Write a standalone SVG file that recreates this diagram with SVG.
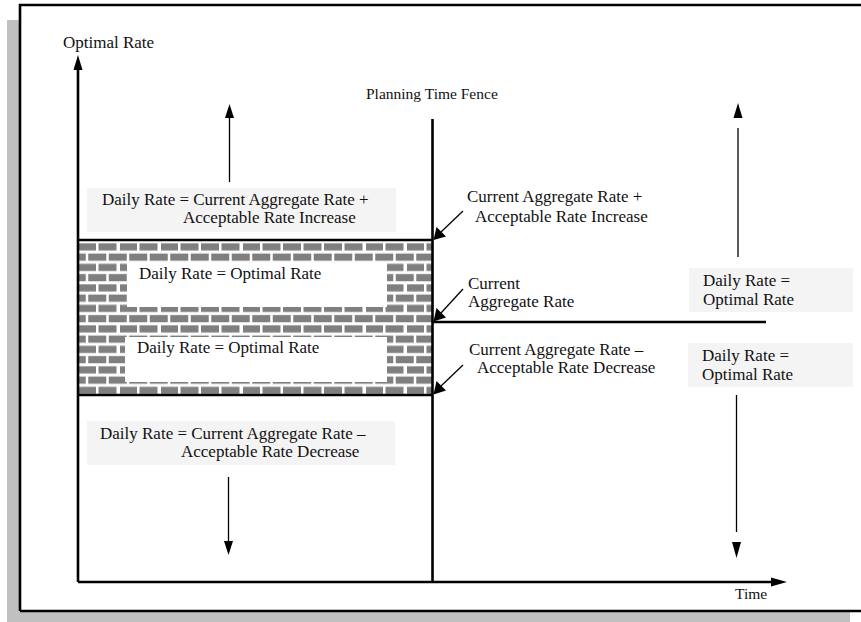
<svg xmlns="http://www.w3.org/2000/svg" width="861" height="622" viewBox="0 0 861 622">
<style>
text{font-family:"Liberation Serif","DejaVu Serif",serif;font-size:17px;fill:#111}
.sm{font-size:15.5px}
.ax{stroke:#000;stroke-width:2.6;fill:none}
.thin{stroke:#000;stroke-width:1.3;fill:none}
.box{fill:#f4f4f4}
.head{fill:#000}
</style>
<defs>
<pattern id="brick" patternUnits="userSpaceOnUse" x="78" y="241" width="41" height="20.5">
<rect width="41" height="20.5" fill="#fff"/>
<g fill="#7f7f7f">
<rect x="0" y="2.3" width="18" height="7.2"/>
<rect x="20.5" y="2.3" width="18" height="7.2"/>
<rect x="0" y="12.55" width="7.75" height="7.2"/>
<rect x="10.25" y="12.55" width="18" height="7.2"/>
<rect x="30.75" y="12.55" width="10.25" height="7.2"/>
</g>
</pattern>
</defs>
<rect width="861" height="622" fill="#fff"/>
<g id="frame">
<rect x="7" y="20" width="13" height="602" fill="#c0c0c0"/>
<rect x="7" y="611" width="843" height="11" fill="#c0c0c0"/>
<path d="M20,611 V5 H861 M20,611 H861" stroke="#000" stroke-width="2.6" fill="none"/>
</g>
<g id="band">
<rect x="78" y="240" width="354" height="82" fill="url(#brick)"/>
<rect x="78" y="322" width="354" height="73" fill="url(#brick)"/>
<rect x="127" y="263" width="260" height="44" fill="#fff"/>
<rect x="125" y="337" width="262" height="45" fill="#fff"/>
<path d="M78,240 H432 M78,395 H432" class="ax"/>
</g>
<g id="upper-optimal"><text x="139" y="279">Daily Rate = Optimal Rate</text></g>
<g id="lower-optimal"><text x="137" y="353">Daily Rate = Optimal Rate</text></g>
<g id="axis-y-label"><text x="63" y="48">Optimal Rate</text></g>
<g id="axis-x-label"><text class="sm" x="735" y="599">Time</text></g>
<g id="fence-label"><text class="sm" x="366" y="99">Planning Time Fence</text></g>
<g id="increase-box">
<rect class="box" x="87" y="188" width="309" height="44"/>
<text x="102" y="205">Daily Rate = Current Aggregate Rate +</text>
<text x="183" y="223">Acceptable Rate Increase</text>
</g>
<g id="decrease-box">
<rect class="box" x="87" y="421" width="308" height="44"/>
<text x="100" y="439">Daily Rate = Current Aggregate Rate –</text>
<text x="181" y="457">Acceptable Rate Decrease</text>
</g>
<g id="right-upper-box">
<rect class="box" x="689" y="268" width="164" height="44"/>
<text x="703" y="286">Daily Rate =</text>
<text x="703" y="305">Optimal Rate</text>
</g>
<g id="right-lower-box">
<rect class="box" x="688" y="343" width="165" height="44"/>
<text x="702" y="361">Daily Rate =</text>
<text x="702" y="380">Optimal Rate</text>
</g>
<g id="label-increase">
<text x="467" y="202">Current Aggregate Rate +</text>
<text x="475" y="222">Acceptable Rate Increase</text>
</g>
<g id="label-current">
<text x="468" y="289">Current</text>
<text x="468" y="307">Aggregate Rate</text>
</g>
<g id="label-decrease">
<text x="469" y="355">Current Aggregate Rate –</text>
<text x="477" y="373">Acceptable Rate Decrease</text>
</g>
<g id="connectors">
<path class="ax" d="M78,582 V69"/>
<polygon class="head" points="78,55 73.5,70 82.5,70"/>
<path class="ax" d="M78,582 H772"/>
<polygon class="head" points="787,582 771,577.5 771,586.5"/>
<path class="ax" d="M432.5,119 V582"/>
<path class="ax" d="M432,322 H766"/>
<path class="thin" d="M229.5,182 V117"/>
<polygon class="head" points="229.5,104 225,118 234,118"/>
<path class="thin" d="M228.5,477 V542"/>
<polygon class="head" points="228.5,555 224,541 233,541"/>
<path class="thin" d="M738,257 V128"/>
<polygon class="head" points="738,103 733.5,118 742.5,118"/>
<path class="thin" d="M736.5,395 V532"/>
<polygon class="head" points="736.5,558 732,542 741,542"/>
<path class="thin" d="M463,211 L441,232"/>
<polygon class="head" points="433.5,240 436.5,227 446,236.5"/>
<path class="thin" d="M463,289 L441,313"/>
<polygon class="head" points="433.5,321.5 436.5,308 446,317.5"/>
<path class="thin" d="M463,365 L441,386"/>
<polygon class="head" points="433.5,394.5 436.5,381 446,390.5"/>
</g>
</svg>
